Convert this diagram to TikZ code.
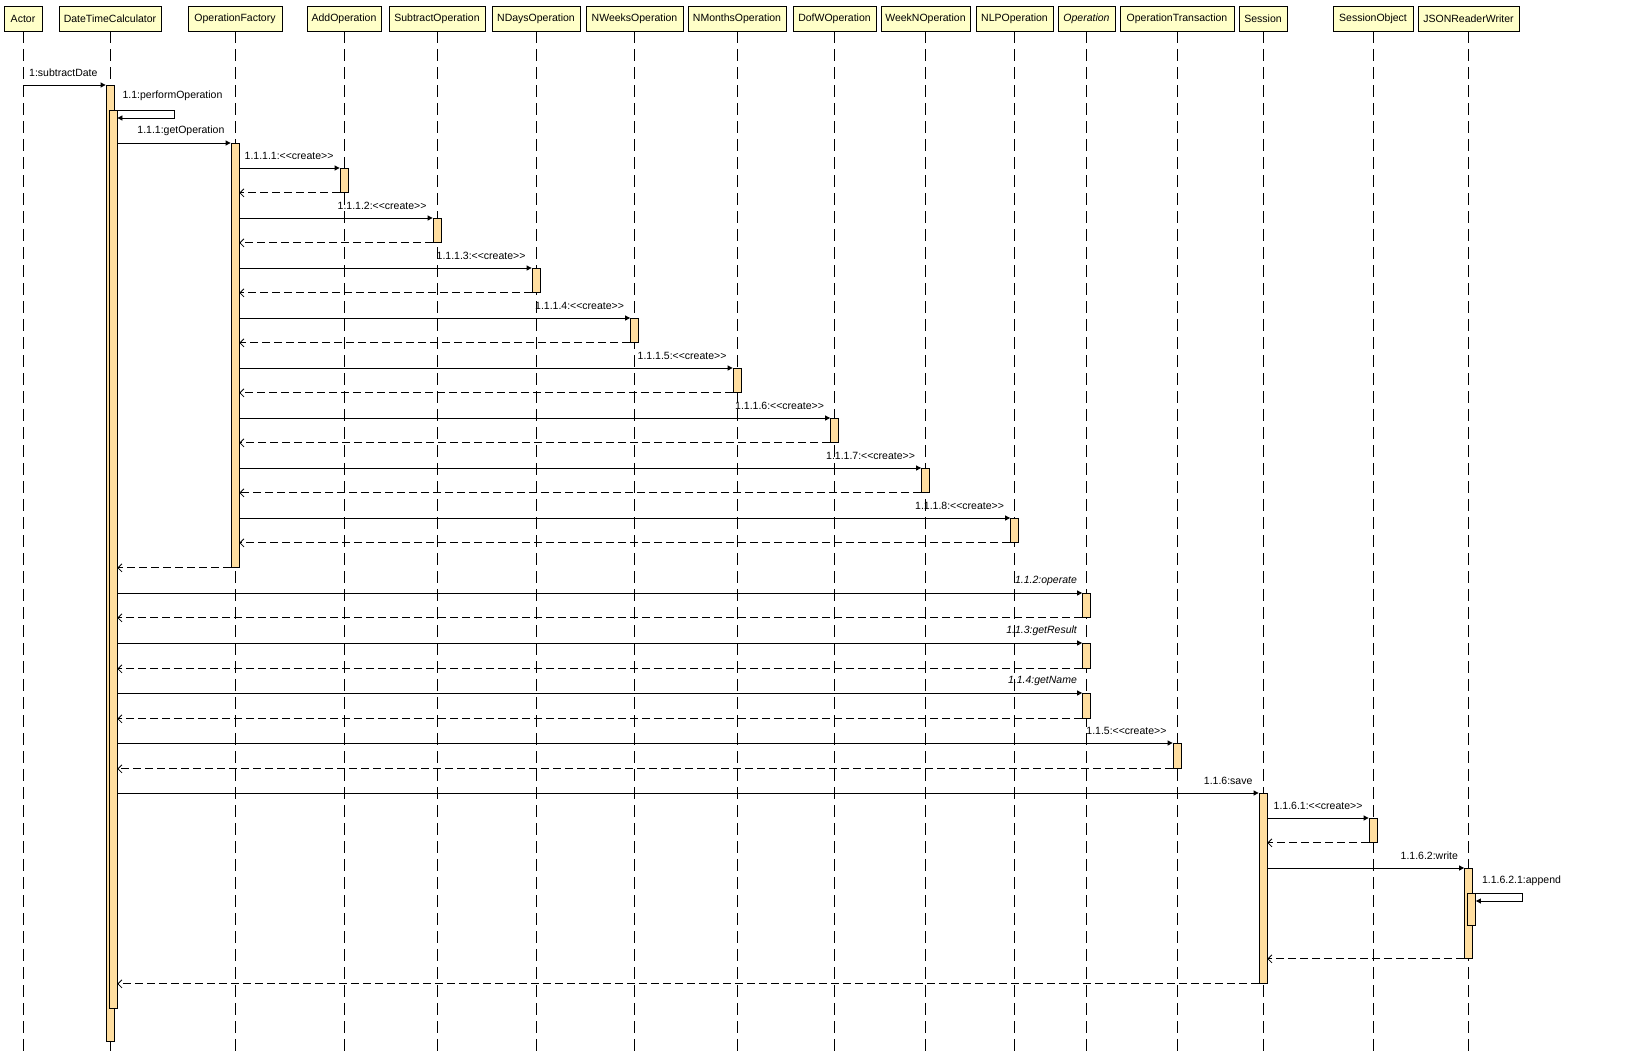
\documentclass[tikz,border=0pt]{standalone}
\usepackage{fontspec}
\setmainfont{Liberation Sans}
\usetikzlibrary{arrows.meta,calc}
\definecolor{hdrfill}{RGB}{255,255,200}
\definecolor{actfill}{RGB}{255,222,160}
\begin{document}
\begin{tikzpicture}[x=1pt,y=-1pt,
  hdr/.style={draw=black, line width=0.8pt, fill=hdrfill, minimum height=25pt, inner sep=0pt, font=\fontsize{10.5}{12}\selectfont},
  actbox/.style={draw=black, line width=0.8pt, fill=actfill, minimum width=8pt, inner sep=0pt, anchor=north},
  lifeline/.style={draw=black, line width=0.9pt, dash pattern=on 12pt off 6pt},
  call/.style={draw=black, line width=0.8pt, -{Triangle[length=5pt,width=5pt]}},
  ret/.style={draw=black, line width=0.8pt, dash pattern=on 8pt off 4pt, -{Straight Barb[length=4pt,width=8pt]}},
  lbl/.style={inner sep=0pt, font=\fontsize{10.5}{12}\selectfont},
  ilbl/.style={inner sep=0pt, font=\fontsize{10.5}{12}\selectfont\itshape}
]
\fill[white] (0,0) rectangle (1625,1052);
\path[use as bounding box] (0,0) rectangle (1625,1052);
\coordinate (bot) at (0,1052);

% headers
\node[hdr, minimum width=38pt]  (actor)  at (23,18.5)    {Actor};
\node[hdr, minimum width=102pt] (dtc)    at (110,18.5)   {DateTimeCalculator};
\node[hdr, minimum width=94pt]  (opf)    at (235,18.5)   {OperationFactory};
\node[hdr, minimum width=74pt]  (add)    at (344,18.5)   {AddOperation};
\node[hdr, minimum width=96pt]  (sub)    at (437,18.5)   {SubtractOperation};
\node[hdr, minimum width=88pt]  (nday)   at (536,18.5)   {NDaysOperation};
\node[hdr, minimum width=97pt]  (nweek)  at (634.5,18.5) {NWeeksOperation};
\node[hdr, minimum width=98pt]  (nmon)   at (737,18.5)   {NMonthsOperation};
\node[hdr, minimum width=83pt]  (dofw)   at (834.5,18.5) {DofWOperation};
\node[hdr, minimum width=89pt]  (weekn)  at (925.5,18.5) {WeekNOperation};
\node[hdr, minimum width=77pt]  (nlp)    at (1014.5,18.5){NLPOperation};
\node[hdr, minimum width=57pt, font=\fontsize{10.5}{12}\selectfont\itshape] (oper) at (1086.5,18.5) {Operation};
\node[hdr, minimum width=114pt] (otr)    at (1177,18.5)  {OperationTransaction};
\node[hdr, minimum width=48pt]  (sess)   at (1263,18.5)  {Session};
\node[hdr, minimum width=80pt]  (sobj)   at (1373,18.5)  {SessionObject};
\node[hdr, minimum width=101pt] (json)   at (1468.5,18.5){JSONReaderWriter};

% lifelines
\foreach \n in {actor,dtc,opf,add,sub,nday,nweek,nmon,dofw,weekn,nlp,oper,otr,sess,sobj,json}
  \draw[lifeline] (\n.south) -- (\n.south |- bot);

% activations
\node[actbox, minimum height=956pt] (dtcA) at (110,85) {};
\node[actbox, minimum height=898pt] (dtcB) at (113,110) {};
\node[actbox, minimum height=424pt] (opfA) at (235,143) {};
\node[actbox, minimum height=24pt] (addA)   at (344,168) {};
\node[actbox, minimum height=24pt] (subA)   at (437,218) {};
\node[actbox, minimum height=24pt] (ndayA)  at (536,268) {};
\node[actbox, minimum height=24pt] (nweekA) at (634.5,318) {};
\node[actbox, minimum height=24pt] (nmonA)  at (737,368) {};
\node[actbox, minimum height=24pt] (dofwA)  at (834.5,418) {};
\node[actbox, minimum height=24pt] (weeknA) at (925.5,468) {};
\node[actbox, minimum height=24pt] (nlpA)   at (1014.5,518) {};
\node[actbox, minimum height=24pt] (operA)  at (1086.5,593) {};
\node[actbox, minimum height=25pt] (operB)  at (1086.5,643) {};
\node[actbox, minimum height=25pt] (operC)  at (1086.5,693) {};
\node[actbox, minimum height=25pt] (otrA)   at (1177,743) {};
\node[actbox, minimum height=190pt] (sessA) at (1263,793) {};
\node[actbox, minimum height=24pt] (sobjA)  at (1373,818) {};
\node[actbox, minimum height=90pt] (jsonA)  at (1468.5,868) {};
\node[actbox, minimum height=32pt] (jsonB)  at (1471.5,893) {};

% messages
\draw[call] (actor.south |- dtcA.north) -- (dtcA.north west);
\node[lbl, anchor=west] (m1) at ($(actor.south |- dtcA.north)+(6,-12.5)$) {1:subtractDate};

\coordinate (loopA) at (174,118);
\draw[call] (dtcA.east |- dtcB.north) -| (loopA) -- (dtcB.east |- loopA);
\node[lbl, anchor=west] (m11) at ($(dtcA.east |- dtcB.north)+(8,-14)$) {1.1:performOperation};

\draw[call] (dtcB.east |- opfA.north) -- (opfA.north west);
\node[lbl, anchor=east] (m111) at ($(opfA.north west)+(-6,-12.5)$) {1.1.1:getOperation};

\foreach \t/\k in {addA/1,subA/2,ndayA/3,nweekA/4,nmonA/5,dofwA/6,weeknA/7,nlpA/8}{
  \draw[call] (opfA.east |- \t.north) -- (\t.north west);
  \draw[ret] (\t.south west) -- (opfA.east |- \t.south);
  \node[lbl, anchor=east] (c\k) at ($(\t.north west)+(-6,-12.5)$) {1.1.1.\k:<{}<create>{}>};
}
\draw[ret] (opfA.south west) -- (dtcB.east |- opfA.south);

\foreach \t/\k/\txt in {operA/2/operate,operB/3/getResult,operC/4/getName}{
  \draw[call] (dtcB.east |- \t.north) -- (\t.north west);
  \draw[ret] (\t.south west) -- (dtcB.east |- \t.south);
  \node[ilbl, anchor=east] (o\k) at ($(\t.north west)+(-5,-12.5)$) {1.1.\k:\txt};
}

\draw[call] (dtcB.east |- otrA.north) -- (otrA.north west);
\draw[ret] (otrA.south west) -- (dtcB.east |- otrA.south);
\node[lbl, anchor=east] (m115) at ($(otrA.north west)+(-6,-12.5)$) {1.1.5:<{}<create>{}>};

\draw[call] (dtcB.east |- sessA.north) -- (sessA.north west);
\draw[ret] (sessA.south west) -- (dtcB.east |- sessA.south);
\node[lbl, anchor=east] (m116) at ($(sessA.north west)+(-6,-12.5)$) {1.1.6:save};

\draw[call] (sessA.east |- sobjA.north) -- (sobjA.north west);
\draw[ret] (sobjA.south west) -- (sessA.east |- sobjA.south);
\node[lbl, anchor=east] (m1161) at ($(sobjA.north west)+(-6,-12.5)$) {1.1.6.1:<{}<create>{}>};

\draw[call] (sessA.east |- jsonA.north) -- (jsonA.north west);
\draw[ret] (jsonA.south west) -- (sessA.east |- jsonA.south);
\node[lbl, anchor=east] (m1162) at ($(jsonA.north west)+(-6,-12.5)$) {1.1.6.2:write};

\coordinate (loopB) at (1522,901);
\draw[call] (jsonA.east |- jsonB.north) -| (loopB) -- (jsonB.east |- loopB);
\node[lbl, anchor=west] (m11621) at ($(jsonA.east |- jsonB.north)+(9,-12.5)$) {1.1.6.2.1:append};
\end{tikzpicture}
\end{document}
